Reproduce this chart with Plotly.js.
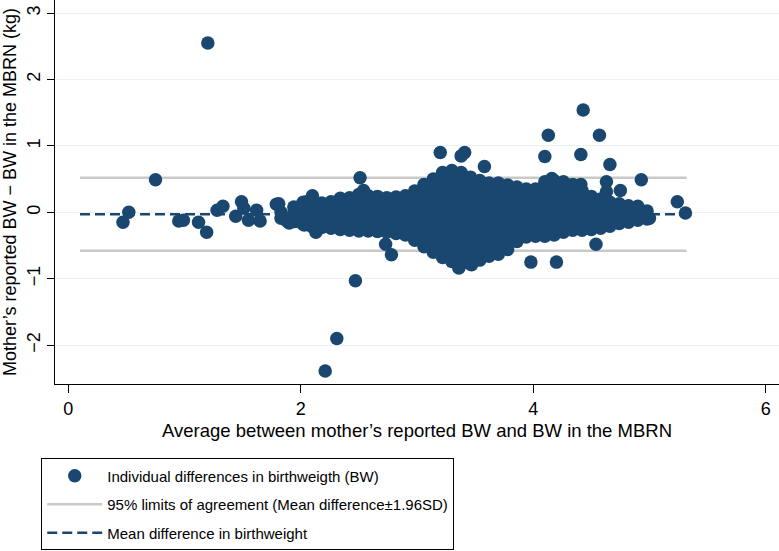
<!DOCTYPE html>
<html>
<head>
<meta charset="utf-8">
<script src="https://cdn.plot.ly/plotly-3.0.1.min.js"></script>
<style>html,body{margin:0;padding:0;background:#fff;}#chart{width:779px;height:551px;}</style>
</head>
<body>
<div id="chart"></div>
<script>
// Sparse / isolated points: average BW (kg) and difference (kg)
const sparseAvg = [0.47,0.52,0.75,1.20,0.95,0.99,1.12,1.19,1.28,1.33,1.44,1.49,1.51,1.55,1.62,1.65,1.79,1.81,1.83,1.83,1.88,1.90,1.96,2.03,2.03,2.05,2.10,2.13,
  2.51,2.54,2.73,2.78,2.47,2.31,2.21,3.20,3.38,3.41,3.58,3.98,4.20,3.36,3.47,4.13,4.10,4.43,4.57,4.41,4.66,4.93,5.24,5.31,4.54,4.63,5.00,4.16,4.26,4.63,4.75,4.34,4.41];
const sparseDiff = [-0.15,0.00,0.49,2.55,-0.13,-0.12,-0.15,-0.30,0.03,0.09,-0.06,0.16,0.06,-0.12,0.03,-0.13,0.12,0.13,-0.09,0.00,-0.13,-0.16,-0.13,-0.06,-0.19,0.16,0.25,-0.30,
  0.52,0.33,-0.48,-0.64,-1.03,-1.90,-2.39,0.90,0.85,0.90,0.69,-0.75,-0.75,-0.84,-0.79,1.16,0.84,1.54,1.16,0.87,0.72,0.49,0.16,-0.01,-0.48,0.46,-0.09,0.51,0.46,0.31,0.33,0.39,0.42];

// Dense cluster, read column by column: average BW per column and the differences in it
const clusterAvg = [1.94,2.02,2.10,2.18,2.26,2.34,2.42,2.50,2.58,2.66,2.74,2.82,2.90,2.98,3.06,3.14,3.22,3.30,3.38,3.46,3.54,3.62,3.70,3.78,3.86,3.94,4.02,4.10,4.18,4.26,4.34,4.42,4.50,4.58,4.66,4.74,4.82,4.90,4.98];
const clusterDiff = [
  [-0.14,-0.02,0.08],
  [-0.18,-0.06,0.05,0.15],
  [-0.22,-0.10,0.02,0.14],
  [-0.23,-0.11,0.01,0.14],
  [-0.24,-0.12,0.00,0.12,0.16],
  [-0.26,-0.14,-0.02,0.10,0.21],
  [-0.27,-0.15,-0.03,0.09,0.22],
  [-0.28,-0.16,-0.04,0.08,0.20,0.27],
  [-0.28,-0.16,-0.04,0.08,0.19,0.25],
  [-0.29,-0.17,-0.05,0.07,0.18,0.24],
  [-0.30,-0.18,-0.06,0.06,0.17,0.22],
  [-0.32,-0.20,-0.08,0.04,0.15,0.23],
  [-0.34,-0.22,-0.10,0.02,0.14,0.25],
  [-0.42,-0.30,-0.18,-0.06,0.06,0.18,0.32],
  [-0.52,-0.40,-0.28,-0.16,-0.04,0.08,0.20,0.32,0.42],
  [-0.60,-0.48,-0.36,-0.24,-0.12,0.00,0.12,0.24,0.36,0.50],
  [-0.68,-0.56,-0.44,-0.32,-0.20,-0.08,0.04,0.16,0.28,0.40,0.52,0.60],
  [-0.74,-0.62,-0.50,-0.38,-0.26,-0.14,-0.02,0.10,0.22,0.34,0.46,0.58,0.63],
  [-0.78,-0.66,-0.54,-0.42,-0.30,-0.18,-0.06,0.06,0.18,0.30,0.42,0.54,0.60],
  [-0.78,-0.66,-0.54,-0.42,-0.30,-0.18,-0.06,0.06,0.18,0.30,0.42,0.53],
  [-0.72,-0.60,-0.48,-0.36,-0.24,-0.12,0.00,0.12,0.24,0.36,0.48],
  [-0.66,-0.54,-0.42,-0.30,-0.18,-0.06,0.06,0.18,0.30,0.44],
  [-0.63,-0.51,-0.39,-0.27,-0.15,-0.03,0.09,0.21,0.33,0.44],
  [-0.56,-0.44,-0.32,-0.20,-0.08,0.04,0.16,0.28,0.41],
  [-0.44,-0.32,-0.20,-0.08,0.04,0.16,0.28,0.38],
  [-0.37,-0.25,-0.13,-0.01,0.11,0.23,0.35],
  [-0.36,-0.24,-0.12,0.00,0.12,0.24,0.35],
  [-0.36,-0.24,-0.12,0.00,0.12,0.24,0.36,0.46],
  [-0.34,-0.22,-0.10,0.02,0.14,0.26,0.38,0.48],
  [-0.30,-0.18,-0.06,0.06,0.18,0.30,0.44],
  [-0.27,-0.15,-0.03,0.09,0.21,0.33,0.42],
  [-0.27,-0.15,-0.03,0.09,0.21,0.33],
  [-0.26,-0.14,-0.02,0.10,0.24],
  [-0.24,-0.12,0.00,0.12,0.20],
  [-0.21,-0.09,0.03,0.15],
  [-0.17,-0.05,0.07,0.13],
  [-0.15,-0.03,0.10],
  [-0.12,0.00,0.09],
  [-0.10,0.02]
];

// Summary lines
const lineAvg = [0.10, 5.32];
const meanDiff = -0.03;
const upperLoA = 0.52;
const lowerLoA = -0.58;

const xTicks = [0, 2, 4, 6];
const yTicks = [-2, -1, 0, 1, 2, 3];
const legendNames = [
  'Individual differences in birthweigth (BW)',
  '95% limits of agreement (Mean difference\u00b11.96SD)',
  'Mean difference in birthweight'
];

const navy = '#1a476f';
const pointsX = sparseAvg.slice();
const pointsY = sparseDiff.slice();
clusterAvg.forEach((xv, i) => {
  clusterDiff[i].forEach(yv => { pointsX.push(xv); pointsY.push(yv); });
});

const traces = [
  {
    x: [lineAvg[0], lineAvg[1], null, lineAvg[0], lineAvg[1]],
    y: [upperLoA, upperLoA, null, lowerLoA, lowerLoA],
    mode: 'lines', type: 'scatter', name: legendNames[1], legendrank: 2, legendgroup: 'b',
    line: {color: '#c9c9c9', width: 2.6}, hoverinfo: 'skip'
  },
  {
    x: lineAvg, y: [meanDiff, meanDiff],
    mode: 'lines', type: 'scatter', name: legendNames[2], legendrank: 3, legendgroup: 'c',
    line: {color: navy, width: 2.6, dash: '10px,5px'}, hoverinfo: 'skip'
  },
  {
    x: pointsX, y: pointsY,
    mode: 'markers', type: 'scatter', name: legendNames[0], legendrank: 1, legendgroup: 'a',
    marker: {color: navy, size: 13.5, line: {width: 0}}
  }
];

const font = {family: 'Liberation Sans, Arial, sans-serif', size: 18, color: '#000'};
const layout = {
  width: 779, height: 551,
  margin: {l: 55, r: 0, t: 0, b: 164},
  paper_bgcolor: '#fff', plot_bgcolor: '#fff',
  font: font,
  showlegend: true,
  xaxis: {
    range: [-0.115, 6.115], tickvals: xTicks, ticktext: xTicks.map(String),
    showgrid: false, zeroline: false, showline: true, linecolor: '#000', linewidth: 1,
    ticks: 'outside', ticklen: 8, tickcolor: '#000', tickfont: {size: 18},
    title: {text: 'Average between mother\u2019s reported BW and BW in the MBRN', font: {size: 18.5}, standoff: 6}
  },
  yaxis: {
    range: [-2.586, 3.198], tickvals: yTicks, ticktext: yTicks.map(v => v < 0 ? '\u2212' + Math.abs(v) : String(v)),
    tickangle: -90,
    showgrid: true, gridcolor: '#eaf2f3', gridwidth: 1, zeroline: false,
    showline: true, linecolor: '#000', linewidth: 1,
    ticks: 'outside', ticklen: 7, tickcolor: '#000', tickfont: {size: 18},
    title: {text: 'Mother\u2019s reported BW \u2212 BW in the MBRN (kg)', font: {size: 18}, standoff: 4}
  },
  legend: {
    x: -0.019, y: -0.194, xanchor: 'left', yanchor: 'top',
    bordercolor: '#000', borderwidth: 1, bgcolor: '#fff',
    font: {family: 'Liberation Sans, Arial, sans-serif', size: 15, color: '#000'},
    itemwidth: 55, tracegroupgap: 6, traceorder: 'grouped'
  }
};

Plotly.newPlot('chart', traces, layout, {staticPlot: true, displayModeBar: false});
</script>
</body>
</html>
